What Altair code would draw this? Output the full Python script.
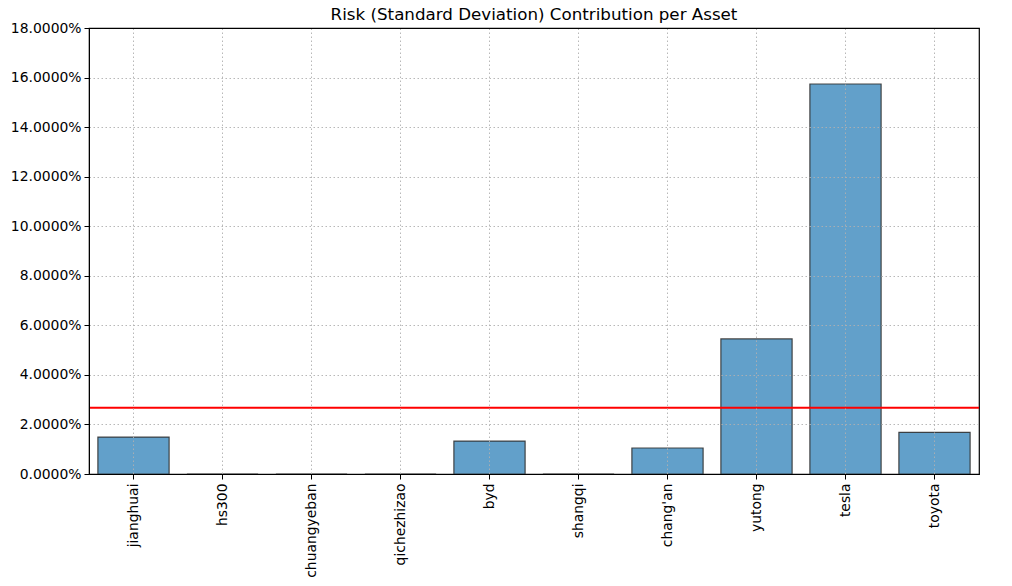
import altair as alt
import pandas as pd

assets = ["jianghuai", "hs300", "chuangyeban", "qichezhizao", "byd",
          "shangqi", "chang'an", "yutong", "tesla", "toyota"]
contrib = [0.0149, 0.0, 0.0, 0.0, 0.0133, 0.0, 0.0105, 0.0545, 0.1574, 0.0168]
mean_line = [0.02674]

df = pd.DataFrame({"asset": assets, "contrib": contrib})
ldf = pd.DataFrame({"v": mean_line})

FONT = "DejaVu Sans"
GRID = "#b0b0b0"

x = alt.X("asset:N", sort=assets, title=None,
          scale=alt.Scale(paddingInner=0.2, paddingOuter=0.1),
          axis=alt.Axis(labelAngle=-90, labelAlign="right", labelBaseline="middle",
                        labelFontSize=13.9, labelColor="black", labelPadding=4,
                        tickSize=5, tickColor="black", domainColor="black",
                        grid=True, gridDash=[1.5, 2.5], gridColor=GRID,
                        gridWidth=0.9, bandPosition=0.5, zindex=1))

y = alt.Y("contrib:Q", title=None,
          scale=alt.Scale(domain=[0, 0.18], nice=False),
          axis=alt.Axis(format=".4%", values=[i * 0.02 for i in range(10)],
                        labelFontSize=13.9, labelColor="black", labelPadding=3,
                        tickSize=5, tickColor="black", domainColor="black",
                        grid=True,
                        gridDash={"condition": {"test": "datum.value >= 0.179", "value": []},
                                  "value": [1.5, 2.5]},
                        gridColor={"condition": {"test": "datum.value >= 0.179", "value": "black"},
                                   "value": GRID},
                        gridWidth={"condition": {"test": "datum.value >= 0.179", "value": 1.2},
                                   "value": 0.9},
                        zindex=1))

bars = alt.Chart(df).mark_bar(
    color="#62a0ca", stroke="#333333", strokeWidth=1.2, strokeOpacity=0.9
).encode(x=x, y=y)

rule = alt.Chart(ldf).mark_rule(color="red", strokeWidth=2).encode(
    y=alt.Y("v:Q", scale=alt.Scale(domain=[0, 0.18], nice=False))
)

chart = alt.layer(bars, rule).properties(
    width=890, height=446,
    title=alt.Title("Risk (Standard Deviation) Contribution per Asset",
                    fontSize=16.7, fontWeight="normal", font=FONT,
                    color="black", anchor="middle", offset=-3),
    autosize=alt.AutoSizeParams(type="none"),
    padding={"left": 81, "top": 20, "right": 20, "bottom": 110},
).configure(font=FONT).configure_view(
    stroke="black", strokeWidth=1.2
).configure_axis(labelFont=FONT)

chart.save("out.html", embed_options={"renderer": "svg", "actions": False})
